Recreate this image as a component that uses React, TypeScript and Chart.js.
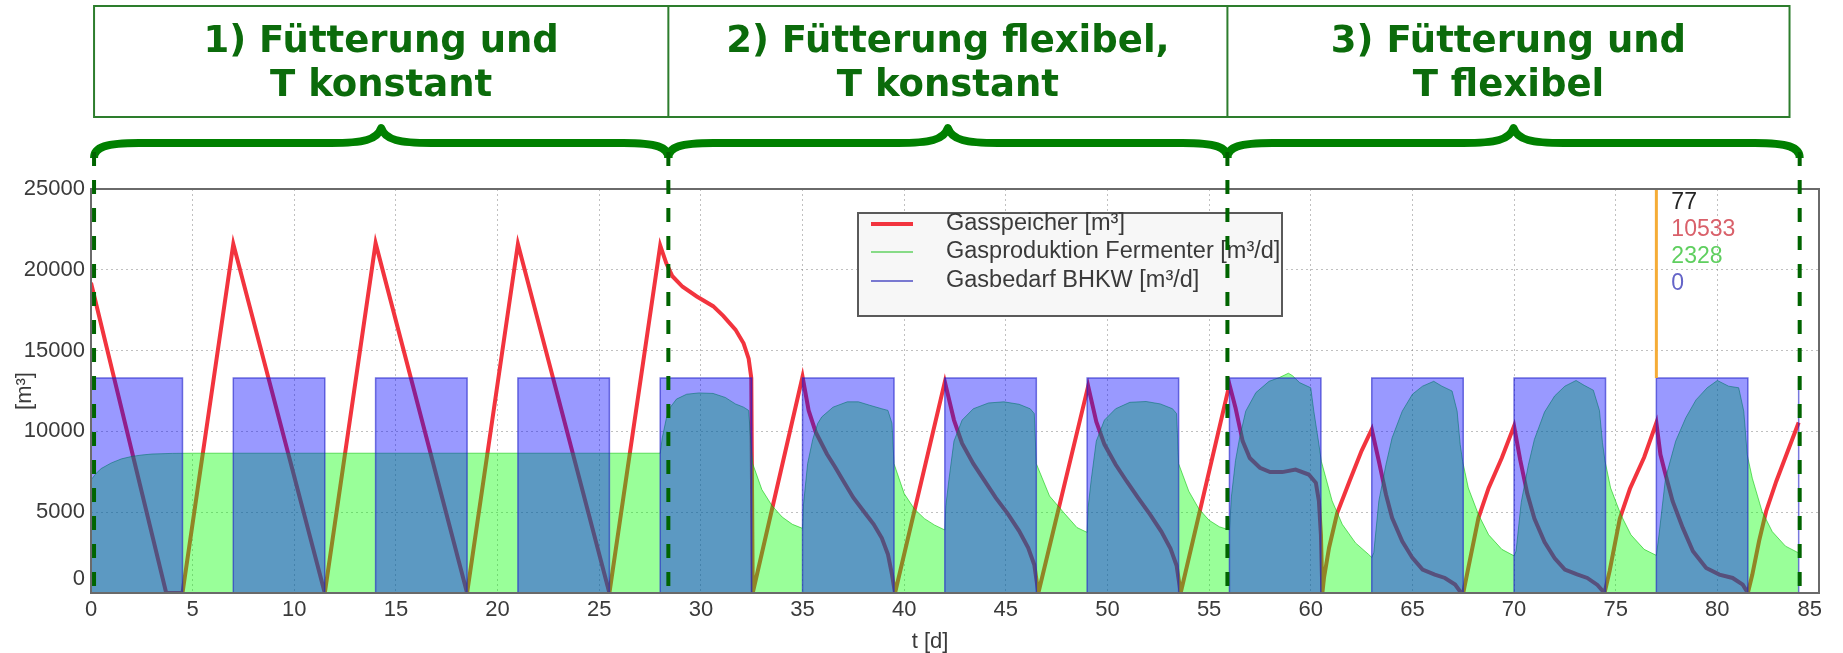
import React, { useEffect, useRef } from 'react';
import { Chart, registerables } from 'chart.js';

Chart.register(...registerables);

// ---------- data ----------
const xTicks = [0, 5, 10, 15, 20, 25, 30, 35, 40, 45, 50, 55, 60, 65, 70, 75, 80, 85];
const yTicks = [0, 5000, 10000, 15000, 20000, 25000];

const seriesLabels = ['Gasspeicher [m³]', 'Gasproduktion Fermenter [m³/d]', 'Gasbedarf BHKW [m³/d]'];

// Gasspeicher [m³]  (t [d], value)
const gasspeicher: [number, number][] = [
  [0, 19200], [3.7, 0], [4.5, 0], [7.0, 21600], [11.5, 0], [14.0, 21650], [18.5, 0], [21.0, 21600], [25.5, 0],
  [28.0, 21500], [28.3, 20400], [28.6, 19600], [29.1, 18950], [29.8, 18350], [30.6, 17750], [31.1, 17150],
  [31.7, 16300], [32.1, 15450], [32.35, 14500], [32.48, 13300], [32.55, 0],
  [35.0, 13380], [35.3, 11300], [35.65, 9950], [36.2, 8600], [36.6, 7800], [37.0, 6950], [37.5, 5900],
  [38.1, 4900], [38.5, 4250], [38.9, 3400], [39.2, 2400], [39.4, 1150], [39.55, 0],
  [42.0, 13070], [42.45, 10700], [42.85, 9250], [43.4, 8000], [43.95, 6950], [44.5, 5900], [45.1, 4900],
  [45.65, 3850], [46.1, 2800], [46.4, 1750], [46.6, 0],
  [49.05, 12800], [49.45, 10600], [49.85, 9200], [50.4, 7950], [50.95, 6900], [51.5, 5900], [52.1, 4850],
  [52.65, 3800], [53.1, 2750], [53.4, 1700], [53.6, 0],
  [56.0, 12900], [56.3, 11450], [56.65, 9400], [57.0, 8350], [57.5, 7750], [58.0, 7480], [58.6, 7480],
  [59.25, 7640], [59.9, 7330], [60.25, 6820], [60.4, 5700], [60.5, 3600], [60.57, 0],
  [60.65, 930], [60.9, 2800], [61.3, 4950], [61.9, 6900], [62.5, 8800], [63.0, 10120],
  [63.35, 8150], [63.7, 6100], [64.0, 4650], [64.5, 3200], [65.0, 2170], [65.5, 1450], [66.1, 1140],
  [66.6, 930], [67.1, 520], [67.4, 0], [67.5, 0],
  [67.75, 1550], [68.25, 4650], [68.75, 6500], [69.4, 8370], [70.0, 10330],
  [70.3, 8250], [70.65, 6150], [71.0, 4600], [71.5, 3150], [72.0, 2150], [72.5, 1450], [73.1, 1150],
  [73.6, 930], [74.1, 500], [74.45, 0],
  [74.7, 1350], [75.2, 4600], [75.7, 6450], [76.4, 8400], [77.0, 10533],
  [77.2, 8570], [77.45, 7330], [77.8, 5680], [78.3, 4030], [78.8, 2580], [79.45, 1550], [80.1, 1140],
  [80.75, 930], [81.25, 520], [81.5, 0],
  [81.72, 1140], [82.05, 3200], [82.4, 5060], [82.9, 6920], [83.4, 8570], [84.0, 10550],
];

// Gasproduktion Fermenter [m³/d]
const gasproduktion: [number, number][] = [
  [0, 7000], [0.25, 7400], [0.5, 7700], [1.0, 8050], [1.5, 8300], [2.0, 8450], [2.5, 8540], [3.0, 8600],
  [4.0, 8640], [5.0, 8650], [28.0, 8650],
  [28.1, 9600], [28.3, 10800], [28.5, 11500], [28.8, 12000], [29.3, 12300], [29.9, 12380], [30.6, 12350],
  [31.2, 12100], [31.7, 11700], [32.1, 11500], [32.35, 11300], [32.45, 9500], [32.55, 8000],
  [33.0, 6400], [33.5, 5400], [34.0, 4700], [34.5, 4250], [35.0, 4000],
  [35.05, 5500], [35.25, 8000], [35.5, 9500], [35.75, 10500], [35.95, 10900], [36.5, 11500], [37.2, 11830],
  [37.75, 11830], [38.3, 11620], [38.9, 11400], [39.2, 11300], [39.4, 10500], [39.5, 8000],
  [40.0, 6150], [40.5, 5200], [41.0, 4600], [41.5, 4200], [42.0, 3900],
  [42.05, 5400], [42.2, 7000], [42.45, 9400], [42.85, 10700], [43.4, 11400], [44.15, 11760], [44.9, 11830],
  [45.65, 11680], [46.2, 11400], [46.4, 11100], [46.5, 8000],
  [47.15, 6000], [47.9, 4900], [48.5, 4050], [49.0, 3750],
  [49.05, 5300], [49.2, 7000], [49.45, 9400], [49.85, 10700], [50.4, 11400], [51.1, 11800], [51.9, 11850],
  [52.6, 11700], [53.2, 11400], [53.4, 11100], [53.5, 8000],
  [54.0, 6300], [54.5, 5200], [55.0, 4500], [55.5, 4100], [56.0, 3900],
  [56.1, 6000], [56.3, 8200], [56.5, 9600], [56.8, 11250], [57.3, 12400], [57.95, 13100], [58.45, 13330],
  [58.9, 13600], [59.1, 13450], [59.45, 13020], [60.0, 12700], [60.15, 11250], [60.4, 9200], [60.52, 8150],
  [60.65, 7550], [61.05, 5700], [61.55, 4250], [62.2, 3100], [62.85, 2380], [63.0, 2200],
  [63.1, 2500], [63.35, 5700], [63.7, 7950], [64.0, 9600], [64.5, 11250], [65.0, 12300], [65.5, 12800],
  [66.05, 13100], [66.45, 12800], [66.95, 12500], [67.2, 11250], [67.35, 9200], [67.47, 8150],
  [67.75, 6500], [68.25, 4850], [68.75, 3600], [69.4, 2700], [70.0, 2300],
  [70.1, 2600], [70.35, 5600], [70.7, 7900], [71.0, 9500], [71.5, 11200], [72.0, 12200], [72.5, 12800],
  [73.05, 13150], [73.45, 12850], [73.9, 12550], [74.2, 11300], [74.35, 9300], [74.47, 8200],
  [74.75, 6500], [75.25, 4850], [75.75, 3600], [76.4, 2700], [77.0, 2328],
  [77.13, 3600], [77.45, 7100], [77.95, 9400], [78.45, 10850], [78.95, 11950], [79.5, 12700], [80.0, 13150],
  [80.55, 12800], [81.05, 12700], [81.3, 11250], [81.47, 8550],
  [81.72, 7100], [82.2, 5050], [82.7, 3800], [83.35, 2900], [84.0, 2480],
];

// Gasbedarf BHKW [m³/d]: level while running, and the running intervals [start, end] in days
const bhkwLevel = 13300;
const bhkwOn: [number, number][] = [
  [0, 4.5], [7, 11.5], [14, 18.5], [21, 25.5], [28, 32.5], [35, 39.5], [42, 46.5], [49, 53.5],
  [56, 60.5], [63, 67.5], [70, 74.5], [77, 81.5], [84, 84],
];

// cursor (crosshair) day
const cursorDay = 77;

// phase annotation boundaries (days)
const phaseBounds = [0.15, 28.4, 55.9, 84.05];
const boxBounds = [0.15, 28.4, 55.9, 83.55];
const phaseTitles = [
  ['1) Fütterung und', 'T konstant'],
  ['2) Fütterung flexibel,', 'T konstant'],
  ['3) Fütterung und', 'T flexibel'],
];

// ---------- styles ----------
const RED = 'rgb(242,52,62)';
const FONT = '"Liberation Sans", Arial, sans-serif';
const TEXT = '#3a3a3a';

const bhkwAt = (t: number) => (bhkwOn.some(([a, b]) => t > a && t < b) ? bhkwLevel : 0);
const valueAt = (pts: [number, number][], t: number) => {
  const p = pts.find(([x]) => x === t);
  return p ? p[1] : 0;
};

function drawBrace(ctx: CanvasRenderingContext2D, a: number, b: number, yEnd: number, yMid: number, yTip: number) {
  const c = (a + b) / 2;
  ctx.beginPath();
  ctx.moveTo(a, yEnd);
  ctx.bezierCurveTo(a, yMid + 4, a + 12, yMid, a + 45, yMid);
  ctx.lineTo(c - 50, yMid);
  ctx.bezierCurveTo(c - 18, yMid, c - 4, yMid - 3, c, yTip);
  ctx.bezierCurveTo(c + 4, yMid - 3, c + 18, yMid, c + 50, yMid);
  ctx.lineTo(b - 45, yMid);
  ctx.bezierCurveTo(b - 12, yMid, b, yMid + 4, b, yEnd);
  ctx.stroke();
}

const overlayPlugin = {
  id: 'overlay',
  afterDraw(chart: any) {
    const ctx: CanvasRenderingContext2D = chart.ctx;
    const xs = chart.scales.x;
    const ys = chart.scales.y;
    const ca = chart.chartArea;
    ctx.save();

    // frame
    ctx.strokeStyle = '#6a6a6a';
    ctx.lineWidth = 2;
    ctx.setLineDash([]);
    ctx.strokeRect(ca.left, ca.top, ca.right - ca.left, ca.bottom - ca.top);

    // tick labels
    ctx.font = `22px ${FONT}`;
    ctx.fillStyle = TEXT;
    ctx.textAlign = 'right';
    ctx.textBaseline = 'middle';
    yTicks.forEach((v) => {
      let py = ys.getPixelForValue(v);
      if (py > ca.bottom - 14) py = ca.bottom - 14;
      ctx.fillText(String(v), ca.left - 6, py);
    });
    ctx.textAlign = 'center';
    xTicks.forEach((v) => {
      const s = String(v);
      const w = ctx.measureText(s).width;
      let px = xs.getPixelForValue(v);
      if (px + w / 2 > ca.right + 3) px = ca.right + 3 - w / 2;
      ctx.fillText(s, px, ca.bottom + 17);
    });

    // axis titles
    ctx.fillText('t [d]', 930, 642);
    ctx.save();
    ctx.translate(25, (ca.top + ca.bottom) / 2);
    ctx.rotate(-Math.PI / 2);
    ctx.fillText('[m³]', 0, 0);
    ctx.restore();

    // cursor readout
    const readout = [
      [String(cursorDay), '#242424'],
      [String(valueAt(gasspeicher, cursorDay)), '#d9606a'],
      [String(valueAt(gasproduktion, cursorDay)), '#5fcf5f'],
      [String(bhkwAt(cursorDay)), '#6464c8'],
    ];
    ctx.font = `23px ${FONT}`;
    ctx.textAlign = 'left';
    const cx = xs.getPixelForValue(cursorDay) + 15;
    readout.forEach(([s, col], i) => {
      ctx.fillStyle = col;
      ctx.fillText(s, cx, ca.top + 14 + i * 27);
    });

    // legend
    const lx0 = 858, ly0 = 213, lx1 = 1282, ly1 = 316;
    ctx.fillStyle = '#f7f7f7';
    ctx.fillRect(lx0, ly0, lx1 - lx0, ly1 - ly0);
    ctx.strokeStyle = '#5a5a5a';
    ctx.lineWidth = 2;
    ctx.strokeRect(lx0, ly0, lx1 - lx0, ly1 - ly0);
    const legendStyles = [
      { color: RED, width: 4 },
      { color: 'rgba(60,200,60,0.8)', width: 1.5 },
      { color: 'rgba(60,60,190,0.9)', width: 1.5 },
    ];
    const rows = [224, 252, 281];
    ctx.font = `23.5px ${FONT}`;
    seriesLabels.forEach((lab, i) => {
      ctx.strokeStyle = legendStyles[i].color;
      ctx.lineWidth = legendStyles[i].width;
      ctx.beginPath();
      ctx.moveTo(871, rows[i]);
      ctx.lineTo(913, rows[i]);
      ctx.stroke();
      ctx.fillStyle = TEXT;
      ctx.fillText(lab, 946, rows[i]);
    });

    // header boxes
    const bx = boxBounds.map((d) => xs.getPixelForValue(d));
    ctx.strokeStyle = '#2d7d2d';
    ctx.lineWidth = 2;
    ctx.strokeRect(bx[0], 6, bx[bx.length - 1] - bx[0], 111);
    ctx.beginPath();
    for (let i = 1; i < bx.length - 1; i++) {
      ctx.moveTo(bx[i], 6);
      ctx.lineTo(bx[i], 117);
    }
    ctx.stroke();
    ctx.font = `bold 37px "DejaVu Sans", Verdana, sans-serif`;
    ctx.fillStyle = '#0b6b0b';
    ctx.textAlign = 'center';
    phaseTitles.forEach((lines, i) => {
      const c = (bx[i] + bx[i + 1]) / 2;
      lines.forEach((ln, j) => ctx.fillText(ln, c, 42 + j * 44));
    });

    // braces
    const px = phaseBounds.map((d) => xs.getPixelForValue(d));
    ctx.strokeStyle = '#008000';
    ctx.lineWidth = 8;
    ctx.lineJoin = 'round';
    for (let i = 0; i < px.length - 1; i++) drawBrace(ctx, px[i], px[i + 1], 158, 143, 128);

    // dashed phase lines
    ctx.strokeStyle = '#006400';
    ctx.lineWidth = 4;
    ctx.setLineDash([14, 14]);
    px.forEach((x) => {
      ctx.beginPath();
      ctx.moveTo(x, 152);
      ctx.lineTo(x, ca.bottom);
      ctx.stroke();
    });
    ctx.restore();
  },
};

export default function App() {
  const ref = useRef<HTMLCanvasElement | null>(null);

  useEffect(() => {
    const canvas = ref.current;
    if (!canvas) return;

    const speicherPts = gasspeicher.map(([x, y]) => ({ x, y }));
    const prodPts = gasproduktion.map(([x, y]) => ({ x, y }));
    const bhkwPts: { x: number; y: number }[] = [];
    bhkwOn.forEach(([a, b]) => {
      bhkwPts.push({ x: a, y: 0 }, { x: a, y: bhkwLevel }, { x: b, y: bhkwLevel }, { x: b, y: 0 });
    });
    const yMax = yTicks[yTicks.length - 1];
    const cursorPts = [{ x: cursorDay, y: yMax }, { x: cursorDay, y: bhkwLevel }];

    const gridOpts = { color: 'rgba(130,130,130,0.5)', lineWidth: 1, drawTicks: false };
    const borderOpts = { display: false, dash: [2, 3] };

    const chart = new Chart(canvas, {
      type: 'line',
      data: {
        datasets: [
          {
            label: seriesLabels[0], data: speicherPts, borderColor: RED, borderWidth: 4,
            pointRadius: 0, fill: false, order: 3, tension: 0,
          },
          {
            label: seriesLabels[1], data: prodPts, borderColor: 'rgba(0,190,0,0.55)', borderWidth: 1,
            backgroundColor: 'rgba(0,255,0,0.4)', fill: 'origin', pointRadius: 0, order: 2, tension: 0,
          },
          {
            label: seriesLabels[2], data: bhkwPts, borderColor: 'rgba(30,30,200,0.6)', borderWidth: 1.5,
            backgroundColor: 'rgba(0,0,255,0.4)', fill: 'origin', pointRadius: 0, order: 1, tension: 0,
          },
          {
            label: 'cursor', data: cursorPts, borderColor: 'rgb(245,172,55)', borderWidth: 3,
            pointRadius: 0, fill: false, order: 0,
          },
        ],
      },
      options: {
        responsive: false,
        animation: false,
        devicePixelRatio: 1,
        layout: { padding: { top: 189, right: 24, left: 0, bottom: 0 } },
        plugins: { legend: { display: false }, tooltip: { enabled: false } },
        scales: {
          x: {
            type: 'linear', min: xTicks[0], max: xTicks[xTicks.length - 1],
            afterBuildTicks: (s: any) => { s.ticks = xTicks.map((v) => ({ value: v })); },
            afterFit: (s: any) => { s.height = 60; },
            ticks: { display: false },
            grid: gridOpts, border: borderOpts,
          },
          y: {
            type: 'linear', min: yTicks[0], max: yMax,
            afterBuildTicks: (s: any) => { s.ticks = yTicks.map((v) => ({ value: v })); },
            afterFit: (s: any) => { s.width = 91; },
            ticks: { display: false },
            grid: gridOpts, border: borderOpts,
          },
        },
      },
      plugins: [overlayPlugin],
    } as any);

    return () => chart.destroy();
  }, []);

  return (
    <div style={{ position: 'absolute', left: 0, top: 0, width: 1843, height: 653, background: '#fff' }}>
      <canvas ref={ref} width={1843} height={653} style={{ display: 'block', width: 1843, height: 653 }} />
    </div>
  );
}
